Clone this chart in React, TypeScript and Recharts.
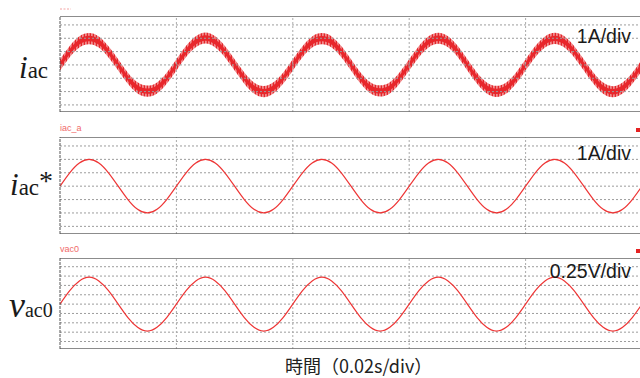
import { ComposedChart, Line, Area, XAxis, YAxis, ReferenceLine } from 'recharts';

// sample times, ms (0.02 s per division, 5 divisions)
const timeMs = [
  0, 1.67, 3.33, 5, 6.67, 8.33, 10, 11.67, 13.33, 15, 16.67, 18.33,
  20, 21.67, 23.33, 25, 26.67, 28.33, 30, 31.67, 33.33, 35, 36.67, 38.33,
  40, 41.67, 43.33, 45, 46.67, 48.33, 50, 51.67, 53.33, 55, 56.67, 58.33,
  60, 61.67, 63.33, 65, 66.67, 68.33, 70, 71.67, 73.33, 75, 76.67, 78.33,
  80, 81.67, 83.33, 85, 86.67, 88.33, 90, 91.67, 93.33, 95, 96.67, 98.33,
  100,
];

// measured current, A (centre of the ripple band)
const iac = [
  0, 1.0, 1.73, 1.98, 1.72, 0.98, 0, -1.0, -1.72, -1.97, -1.73, -1.0,
  0, 1.01, 1.74, 2.02, 1.73, 1.0, 0, -0.99, -1.73, -2.0, -1.72, -1.0,
  0, 0.99, 1.72, 1.97, 1.72, 1.0, 0, -1.0, -1.71, -1.95, -1.72, -0.99,
  0, 1.0, 1.73, 2.0, 1.74, 1.01, 0, -1.0, -1.73, -1.98, -1.73, -1.0,
  0, 1.0, 1.72, 1.99, 1.73, 1.0, 0, -1.0, -1.74, -2.01, -1.73, -1.0,
  0,
];
const IAC_RIPPLE = 0.42; // half height of switching ripple band, A
const IAC_CORE = 0.2;

// reference current, A
const iacRef = [
  0, 1.0, 1.73, 2.0, 1.73, 1.0, 0, -1.0, -1.73, -2.0, -1.73, -1.0,
  0, 1.0, 1.73, 2.0, 1.73, 1.0, 0, -1.0, -1.73, -2.0, -1.73, -1.0,
  0, 1.0, 1.73, 2.0, 1.73, 1.0, 0, -1.0, -1.73, -2.0, -1.73, -1.0,
  0, 1.0, 1.73, 2.0, 1.73, 1.0, 0, -1.0, -1.73, -2.0, -1.73, -1.0,
  0, 1.0, 1.73, 2.0, 1.73, 1.0, 0, -1.0, -1.73, -2.0, -1.73, -1.0,
  0,
];

// converter voltage, V
const vac0 = [
  0, 0.36, 0.62, 0.72, 0.62, 0.36, 0, -0.36, -0.62, -0.72, -0.62, -0.36,
  0, 0.36, 0.62, 0.72, 0.62, 0.36, 0, -0.36, -0.62, -0.72, -0.62, -0.36,
  0, 0.36, 0.62, 0.72, 0.62, 0.36, 0, -0.36, -0.62, -0.72, -0.62, -0.36,
  0, 0.36, 0.62, 0.72, 0.62, 0.36, 0, -0.36, -0.62, -0.72, -0.62, -0.36,
  0, 0.36, 0.62, 0.72, 0.62, 0.36, 0, -0.36, -0.62, -0.72, -0.62, -0.36,
  0,
];

const divX = [20, 40, 60, 80];
const ampGrid = [-3, -2, -1, 0, 1, 2, 3];
const voltGrid = [-1, -0.75, -0.5, -0.25, 0, 0.25, 0.5, 0.75, 1];

const rows = timeMs.map((t, i) => ({
  t,
  band: [iac[i] - IAC_RIPPLE, iac[i] + IAC_RIPPLE],
  core: [iac[i] - IAC_CORE, iac[i] + IAC_CORE],
  ref: iacRef[i],
  v: vac0[i],
}));

const RED = '#e8262b';

type PanelProps = {
  top: number;
  height: number;
  domain: [number, number];
  grid: number[];
  children: React.ReactNode;
};

const Panel = ({ top, height, domain, grid, children }: PanelProps) => (
  <div style={{ position: 'absolute', left: 0, top }}>
    <ComposedChart width={642} height={height} data={rows} margin={{ top: 0, right: 0, bottom: 0, left: 60 }}>
      <defs>
        <pattern id="ripple" width="3" height="4" patternUnits="userSpaceOnUse">
          <rect width="3" height="4" fill="#f6b0b0" />
          <rect width="1.2" height="4" fill="#e3262b" />
          <rect x="1.9" width="0.7" height="4" fill="#ea4a4c" />
        </pattern>
      </defs>
      <XAxis type="number" dataKey="t" domain={[0, 100]} hide />
      <YAxis type="number" domain={domain} hide allowDataOverflow />
      {grid.map((v) => (
        <ReferenceLine key={'h' + v} y={v} stroke="#9c9c9c" strokeDasharray="2 2" />
      ))}
      {divX.map((x) => (
        <ReferenceLine key={'v' + x} x={x} stroke="#aaaaaa" strokeDasharray="2 2" />
      ))}
      {children}
      <ReferenceLine y={domain[1]} stroke="#666" strokeWidth={1.5} />
      <ReferenceLine y={domain[0]} stroke="#666" strokeWidth={1.5} />
      <ReferenceLine x={0} stroke="#555" strokeDasharray="3 1" />
    </ComposedChart>
  </div>
);

export default function App() {
  return (
    <div style={{ position: 'absolute', left: 0, top: 0, width: 640, height: 378, overflow: 'hidden', background: '#fff' }}>
      <Panel top={16} height={96} domain={[-3.53, 3.67]} grid={ampGrid}>
        <Area type="natural" dataKey="band" stroke="none" fill="url(#ripple)" fillOpacity={1} isAnimationActive={false} dot={false} activeDot={false} />
        <Area type="natural" dataKey="core" stroke="none" fill={RED} fillOpacity={1} isAnimationActive={false} dot={false} activeDot={false} />
      </Panel>
      <Panel top={137} height={97} domain={[-3.57, 3.67]} grid={ampGrid}>
        <Line type="natural" dataKey="ref" stroke="#ee3535" strokeWidth={1.2} dot={false} isAnimationActive={false} />
      </Panel>
      <Panel top={258} height={91} domain={[-1.2, 1.233]} grid={voltGrid}>
        <Line type="natural" dataKey="v" stroke="#ee3535" strokeWidth={1.2} dot={false} isAnimationActive={false} />
      </Panel>

      <svg width={640} height={378} style={{ position: 'absolute', left: 0, top: 0, pointerEvents: 'none' }}>
        {/* trace labels on the left */}
        <text y={78} fontFamily="'Liberation Serif', serif" fill="#1a1a1a">
          <tspan x={19} fontStyle="italic" fontSize={31}>i</tspan>
          <tspan fontSize={23}>ac</tspan>
        </text>
        <text y={195} fontFamily="'Liberation Serif', serif" fill="#1a1a1a">
          <tspan x={10} fontStyle="italic" fontSize={31}>i</tspan>
          <tspan fontSize={23}>ac</tspan>
          <tspan fontSize={28} dy={-5}>*</tspan>
        </text>
        <text y={317} fontFamily="'Liberation Serif', serif" fill="#1a1a1a">
          <tspan x={9} fontStyle="italic" fontSize={36}>v</tspan>
          <tspan fontSize={20}>ac0</tspan>
        </text>

        {/* scale texts */}
        <g fontFamily="'Liberation Sans', Arial, sans-serif" fontSize={19.5} fill="#1a1a1a" textAnchor="end">
          <text x={631} y={43}>1A/div</text>
          <text x={631} y={160}>1A/div</text>
          <text x={631} y={278}>0.25V/div</text>
        </g>

        {/* scope channel names */}
        <g fontFamily="'Liberation Sans', Arial, sans-serif" fontSize={9} fill="#f06a6a">
          <text x={60} y={130.5}>iac_a</text>
          <text x={60} y={251.5}>vac0</text>
        </g>
        <line x1={60} x2={71} y1={9} y2={9} stroke="#f3a3a3" strokeDasharray="2 1.5" />
        <rect x={636} y={128} width={4} height={4} fill="#e52222" />
        <rect x={636} y={249} width={4} height={4} fill="#e52222" />

        <text x={285} y={373} fontFamily="'Noto Sans CJK JP', sans-serif" fontSize={18} fill="#222">
          時間（0.02s/div）
        </text>
      </svg>
    </div>
  );
}
